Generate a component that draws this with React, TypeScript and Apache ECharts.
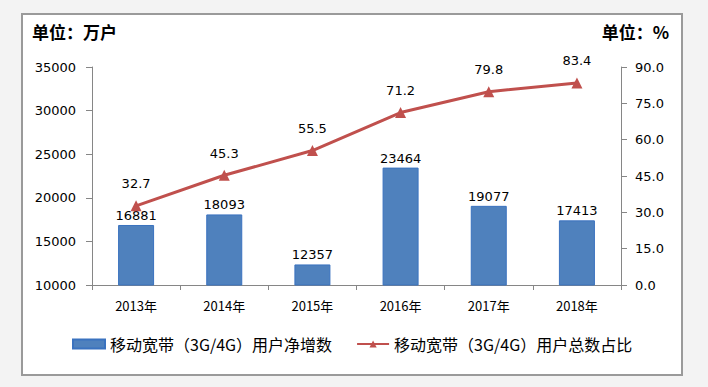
import React, { useEffect, useRef } from "react";
import * as echarts from "echarts";

const categories = ["2013年", "2014年", "2015年", "2016年", "2017年", "2018年"];
const netAdds = [16881, 18093, 12357, 23464, 19077, 17413];
const sharePct = [32.7, 45.3, 55.5, 71.2, 79.8, 83.4];
const barName = "移动宽带（3G/4G）用户净增数";
const lineName = "移动宽带（3G/4G）用户总数占比";

const NUM_FONT = "DejaVu Sans, Verdana, sans-serif";
const CJK_FONT = "Noto Sans CJK SC, sans-serif";

export default function App() {
  const ref = useRef<HTMLDivElement>(null);
  useEffect(() => {
    if (!ref.current) return;
    const chart = echarts.init(ref.current, null, { renderer: "svg" });
    chart.setOption({
      animation: false,
      backgroundColor: "#f3f3f3",
      graphic: [
        {
          type: "rect",
          z: -10,
          shape: { x: 22, y: 14, width: 660, height: 361 },
          style: { fill: "#ffffff", stroke: "#9a9a9a", lineWidth: 2 },
          silent: true,
        },
        {
          type: "text",
          left: 32,
          top: 23,
          style: { text: "单位：万户", font: "bold 17px " + CJK_FONT, fill: "#000" },
        },
        {
          type: "text",
          right: 39,
          top: 23,
          style: { text: "单位：%", font: "bold 17px " + CJK_FONT, fill: "#000" },
        },
      ],
      grid: { left: 92, right: 87, top: 67, bottom: 102, containLabel: false },
      legend: {
        left: 72,
        top: 336,
        padding: 0,
        itemGap: 24,
        itemWidth: 32,
        itemHeight: 9,
        textStyle: { fontFamily: CJK_FONT, fontSize: 16, color: "#000" },
        data: [
          { name: barName, icon: "rect" },
          { name: lineName },
        ],
      },
      xAxis: {
        type: "category",
        data: categories,
        axisLine: { lineStyle: { color: "#868686", width: 1 } },
        axisTick: { show: true, length: 5, lineStyle: { color: "#868686" } },
        axisLabel: { color: "#000", fontFamily: CJK_FONT, fontSize: 13, margin: 14 },
      },
      yAxis: [
        {
          type: "value",
          min: 10000,
          max: 35000,
          interval: 5000,
          splitLine: { show: false },
          axisLine: { show: true, lineStyle: { color: "#868686" } },
          axisTick: { show: true, length: 6, lineStyle: { color: "#868686" } },
          axisLabel: {
            color: "#000",
            fontFamily: NUM_FONT,
            fontSize: 13,
            margin: 16,
            formatter: (v: number) => String(v),
          },
        },
        {
          type: "value",
          min: 0,
          max: 90,
          interval: 15,
          splitLine: { show: false },
          axisLine: { show: true, lineStyle: { color: "#868686" } },
          axisTick: { show: true, length: 6, lineStyle: { color: "#868686" } },
          axisLabel: {
            color: "#000",
            fontFamily: NUM_FONT,
            fontSize: 13,
            margin: 14,
            formatter: (v: number) => v.toFixed(1),
          },
        },
      ],
      series: [
        {
          name: barName,
          type: "bar",
          data: netAdds,
          barWidth: 36,
          itemStyle: { color: "#4f81bd", borderColor: "#3a72bf", borderWidth: 1 },
          label: {
            show: true,
            position: "top",
            distance: 3,
            color: "#000",
            fontFamily: NUM_FONT,
            fontSize: 13,
          },
          z: 2,
        },
        {
          name: lineName,
          type: "line",
          yAxisIndex: 1,
          data: sharePct,
          symbol: "triangle",
          symbolSize: 11,
          lineStyle: { color: "#c0504d", width: 3 },
          itemStyle: { color: "#c0504d" },
          label: {
            show: true,
            position: "top",
            distance: 10,
            color: "#000",
            fontFamily: NUM_FONT,
            fontSize: 13,
            formatter: (p: any) => Number(p.value).toFixed(1),
          },
          z: 3,
        },
      ],
    });
    return () => chart.dispose();
  }, []);
  return (
    <div style={{ position: "fixed", left: 0, top: 0, width: 708, height: 387 }}>
      <div ref={ref} style={{ width: 708, height: 387 }} />
    </div>
  );
}
